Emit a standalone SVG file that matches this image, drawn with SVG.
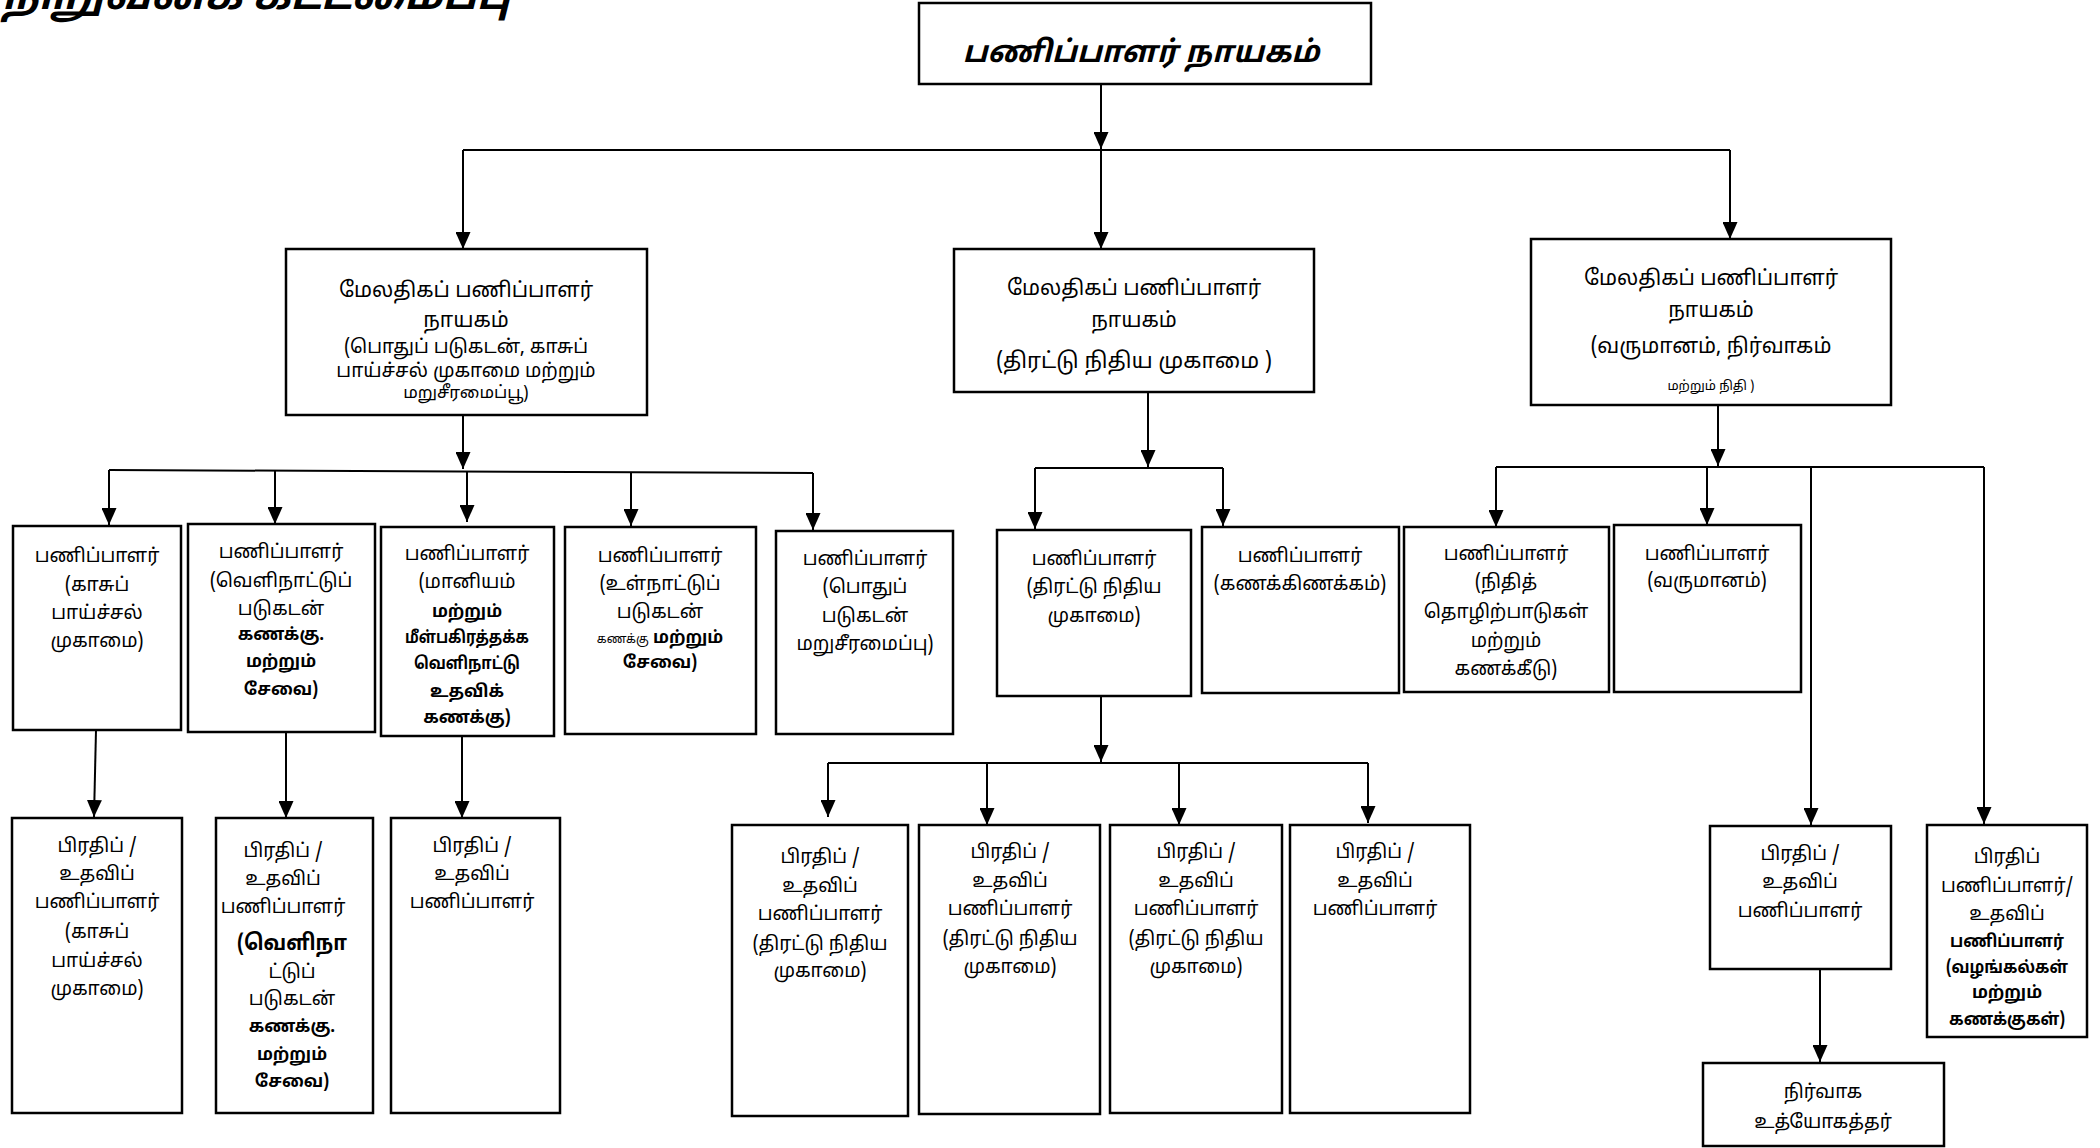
<svg xmlns="http://www.w3.org/2000/svg" width="2100" height="1148" viewBox="0 0 2100 1148">
<style>
.box{fill:#fff;stroke:#000;stroke-width:2.5}
.c{stroke:#000;stroke-width:2;fill:none}
.a{marker-end:url(#arr)}
text{font-family:'Noto Sans Tamil','Lohit Tamil','Latha','Noto Sans','DejaVu Sans',sans-serif;fill:#000;text-anchor:middle}
.t{font-size:19px}
.m{font-size:21px}
.s{font-size:13px}
.b{font-weight:bold;font-size:17px}
.root{font-size:30px;font-weight:bold;font-style:italic}
.title{font-size:41px;font-weight:bold;font-style:italic;text-anchor:start}
</style>
<defs>
<marker id="arr" viewBox="0 0 17 15" refX="17" refY="7.5" markerWidth="17" markerHeight="15" markerUnits="userSpaceOnUse" orient="auto">
<path d="M0,0 L17,7.5 L0,15 z" fill="#000"/>
</marker>
</defs>
<rect width="2100" height="1148" fill="#fff"/>
<text class="title" x="2" y="9">நிறுவனக் கட்டமைப்பு</text>

<g id="connectors">
<line class="c a" x1="1101" y1="84" x2="1101" y2="149"/>
<line class="c" x1="463" y1="150" x2="1730" y2="150"/>
<line class="c a" x1="463" y1="150" x2="463" y2="249"/>
<line class="c a" x1="1101" y1="150" x2="1101" y2="249"/>
<line class="c a" x1="1730" y1="150" x2="1730" y2="239"/>
<line class="c a" x1="463" y1="415" x2="463" y2="469"/>
<line class="c" x1="109" y1="470" x2="813" y2="473"/>
<line class="c a" x1="109" y1="470" x2="109" y2="525"/>
<line class="c a" x1="275" y1="471" x2="275" y2="524"/>
<line class="c a" x1="467" y1="472" x2="467" y2="522"/>
<line class="c a" x1="631" y1="472" x2="631" y2="526"/>
<line class="c a" x1="813" y1="473" x2="813" y2="530"/>
<line class="c a" x1="1148" y1="392" x2="1148" y2="467"/>
<line class="c" x1="1035" y1="468" x2="1223" y2="468"/>
<line class="c a" x1="1035" y1="468" x2="1035" y2="529"/>
<line class="c a" x1="1223" y1="468" x2="1223" y2="526"/>
<line class="c a" x1="1718" y1="398" x2="1718" y2="466"/>
<line class="c" x1="1496" y1="467" x2="1984" y2="467"/>
<line class="c a" x1="1496" y1="467" x2="1496" y2="527"/>
<line class="c a" x1="1707" y1="467" x2="1707" y2="525"/>
<line class="c a" x1="1811" y1="467" x2="1811" y2="825"/>
<line class="c a" x1="1984" y1="467" x2="1984" y2="824"/>
<line class="c a" x1="96" y1="730" x2="94" y2="817"/>
<line class="c a" x1="286" y1="732" x2="286" y2="818"/>
<line class="c a" x1="462" y1="725" x2="462" y2="818"/>
<line class="c a" x1="1101" y1="696" x2="1101" y2="762"/>
<line class="c" x1="828" y1="763" x2="1368" y2="763"/>
<line class="c a" x1="828" y1="763" x2="828" y2="817"/>
<line class="c a" x1="987" y1="763" x2="987" y2="825"/>
<line class="c a" x1="1179" y1="763" x2="1179" y2="825"/>
<line class="c a" x1="1368" y1="763" x2="1368" y2="823"/>
<line class="c a" x1="1820" y1="969" x2="1820" y2="1062"/>
</g>

<g id="root">
<rect class="box" x="919" y="3" width="452" height="81"/>
<text class="root" x="1141" y="62">பணிப்பாளர் நாயகம்</text>
</g>

<g id="m1">
<rect class="box" x="286" y="249" width="361" height="166"/>
<text class="m" x="466" y="297">மேலதிகப் பணிப்பாளர்</text>
<text class="m" x="466" y="327">நாயகம்</text>
<text class="t" x="466" y="353">(பொதுப் படுகடன், காசுப்</text>
<text class="t" x="466" y="377">பாய்ச்சல் முகாமை மற்றும்</text>
<text class="t" x="466" y="398" style="font-size:17px">மறுசீரமைப்பூ)</text>
</g>

<g id="m2">
<rect class="box" x="954" y="249" width="360" height="143"/>
<text class="m" x="1134" y="295">மேலதிகப் பணிப்பாளர்</text>
<text class="m" x="1134" y="327">நாயகம்</text>
<text class="m" x="1134" y="368" style="font-size:22px">(திரட்டு நிதிய முகாமை )</text>
</g>

<g id="m3">
<rect class="box" x="1531" y="239" width="360" height="166"/>
<text class="m" x="1711" y="285">மேலதிகப் பணிப்பாளர்</text>
<text class="m" x="1711" y="317">நாயகம்</text>
<text class="m" x="1711" y="353">(வருமானம், நிர்வாகம்</text>
<text class="s" x="1711" y="390">மற்றும் நிதி )</text>
</g>

<g id="b1">
<rect class="box" x="13" y="526" width="168" height="204"/>
<text class="t" x="97" y="562">பணிப்பாளர்</text>
<text class="t" x="97" y="591">(காசுப்</text>
<text class="t" x="97" y="619">பாய்ச்சல்</text>
<text class="t" x="97" y="647">முகாமை)</text>
</g>

<g id="b2">
<rect class="box" x="188" y="524" width="187" height="208"/>
<text class="t" x="281" y="558">பணிப்பாளர்</text>
<text class="t" x="281" y="587">(வெளிநாட்டுப்</text>
<text class="t" x="281" y="615">படுகடன்</text>
<text class="b" x="281" y="640">கணக்கு.</text>
<text class="b" x="281" y="667">மற்றும்</text>
<text class="b" x="281" y="695">சேவை)</text>
</g>

<g id="b3">
<rect class="box" x="381" y="527" width="173" height="209"/>
<text class="t" x="467" y="560">பணிப்பாளர்</text>
<text class="t" x="467" y="588">(மானியம்</text>
<text class="b" x="467" y="617">மற்றும்</text>
<text class="b" x="467" y="643" textLength="124" lengthAdjust="spacingAndGlyphs">மீள்பகிரத்தக்க</text>
<text class="b" x="467" y="669" textLength="106" lengthAdjust="spacingAndGlyphs">வெளிநாட்டு</text>
<text class="b" x="467" y="697">உதவிக்</text>
<text class="b" x="467" y="723">கணக்கு)</text>
</g>

<g id="b4">
<rect class="box" x="565" y="527" width="191" height="207"/>
<text class="t" x="660" y="562">பணிப்பாளர்</text>
<text class="t" x="660" y="590">(உள்நாட்டுப்</text>
<text class="t" x="660" y="618">படுகடன்</text>
<text class="b" x="660" y="643"><tspan style="font-size:12px;font-weight:normal">கணக்கு</tspan> மற்றும்</text>
<text class="b" x="660" y="668">சேவை)</text>
</g>

<g id="b5">
<rect class="box" x="776" y="531" width="177" height="203"/>
<text class="t" x="865" y="565">பணிப்பாளர்</text>
<text class="t" x="865" y="593">(பொதுப்</text>
<text class="t" x="865" y="622">படுகடன்</text>
<text class="t" x="865" y="650">மறுசீரமைப்பு)</text>
</g>

<g id="b6">
<rect class="box" x="997" y="530" width="194" height="166"/>
<text class="t" x="1094" y="565">பணிப்பாளர்</text>
<text class="t" x="1094" y="593">(திரட்டு நிதிய</text>
<text class="t" x="1094" y="622">முகாமை)</text>
</g>

<g id="b7">
<rect class="box" x="1202" y="527" width="197" height="166"/>
<text class="t" x="1300" y="562">பணிப்பாளர்</text>
<text class="t" x="1300" y="590">(கணக்கிணக்கம்)</text>
</g>

<g id="b8">
<rect class="box" x="1404" y="527" width="205" height="165"/>
<text class="t" x="1506" y="560">பணிப்பாளர்</text>
<text class="t" x="1506" y="588">(நிதித்</text>
<text class="t" x="1506" y="618">தொழிற்பாடுகள்</text>
<text class="t" x="1506" y="647">மற்றும்</text>
<text class="t" x="1506" y="675">கணக்கீடு)</text>
</g>

<g id="b9">
<rect class="box" x="1614" y="525" width="187" height="167"/>
<text class="t" x="1707" y="560">பணிப்பாளர்</text>
<text class="t" x="1707" y="587">(வருமானம்)</text>
</g>

<g id="c1">
<rect class="box" x="12" y="818" width="170" height="295"/>
<text class="t" x="97" y="852">பிரதிப் /</text>
<text class="t" x="97" y="880">உதவிப்</text>
<text class="t" x="97" y="908">பணிப்பாளர்</text>
<text class="t" x="97" y="938">(காசுப்</text>
<text class="t" x="97" y="967">பாய்ச்சல்</text>
<text class="t" x="97" y="995">முகாமை)</text>
</g>

<g id="c2">
<rect class="box" x="216" y="818" width="157" height="295"/>
<text class="t" x="283" y="857">பிரதிப் /</text>
<text class="t" x="283" y="885">உதவிப்</text>
<text class="t" x="283" y="913">பணிப்பாளர்</text>
<text class="b" x="292" y="950" style="font-size:22px" textLength="110" lengthAdjust="spacingAndGlyphs">(வெளிநா</text>
<text class="t" x="292" y="978">ட்டுப்</text>
<text class="t" x="292" y="1005">படுகடன்</text>
<text class="b" x="292" y="1032">கணக்கு.</text>
<text class="b" x="292" y="1060">மற்றும்</text>
<text class="b" x="292" y="1087">சேவை)</text>
</g>

<g id="c3">
<rect class="box" x="391" y="818" width="169" height="295"/>
<text class="t" x="472" y="852">பிரதிப் /</text>
<text class="t" x="472" y="880">உதவிப்</text>
<text class="t" x="472" y="908">பணிப்பாளர்</text>
</g>

<g id="c4">
<rect class="box" x="732" y="825" width="176" height="291"/>
<text class="t" x="820" y="863">பிரதிப் /</text>
<text class="t" x="820" y="892">உதவிப்</text>
<text class="t" x="820" y="920">பணிப்பாளர்</text>
<text class="t" x="820" y="950">(திரட்டு நிதிய</text>
<text class="t" x="820" y="977">முகாமை)</text>
</g>

<g id="c5">
<rect class="box" x="919" y="825" width="181" height="289"/>
<text class="t" x="1010" y="858">பிரதிப் /</text>
<text class="t" x="1010" y="887">உதவிப்</text>
<text class="t" x="1010" y="915">பணிப்பாளர்</text>
<text class="t" x="1010" y="945">(திரட்டு நிதிய</text>
<text class="t" x="1010" y="973">முகாமை)</text>
</g>

<g id="c6">
<rect class="box" x="1110" y="825" width="172" height="288"/>
<text class="t" x="1196" y="858">பிரதிப் /</text>
<text class="t" x="1196" y="887">உதவிப்</text>
<text class="t" x="1196" y="915">பணிப்பாளர்</text>
<text class="t" x="1196" y="945">(திரட்டு நிதிய</text>
<text class="t" x="1196" y="973">முகாமை)</text>
</g>

<g id="c7">
<rect class="box" x="1290" y="825" width="180" height="288"/>
<text class="t" x="1375" y="858">பிரதிப் /</text>
<text class="t" x="1375" y="887">உதவிப்</text>
<text class="t" x="1375" y="915">பணிப்பாளர்</text>
</g>

<g id="c8">
<rect class="box" x="1710" y="826" width="181" height="143"/>
<text class="t" x="1800" y="860">பிரதிப் /</text>
<text class="t" x="1800" y="888">உதவிப்</text>
<text class="t" x="1800" y="917">பணிப்பாளர்</text>
</g>

<g id="c9">
<rect class="box" x="1927" y="825" width="160" height="212"/>
<text class="t" x="2007" y="863">பிரதிப்</text>
<text class="t" x="2007" y="892">பணிப்பாளர்/</text>
<text class="t" x="2007" y="920">உதவிப்</text>
<text class="b" x="2007" y="947" textLength="114" lengthAdjust="spacingAndGlyphs">பணிப்பாளர்</text>
<text class="b" x="2007" y="973" textLength="122" lengthAdjust="spacingAndGlyphs">(வழங்கல்கள்</text>
<text class="b" x="2007" y="998">மற்றும்</text>
<text class="b" x="2007" y="1025" textLength="116" lengthAdjust="spacingAndGlyphs">கணக்குகள்)</text>
</g>

<g id="d1">
<rect class="box" x="1703" y="1063" width="241" height="83"/>
<text class="t" x="1823" y="1098">நிர்வாக</text>
<text class="t" x="1823" y="1128">உத்யோகத்தர்</text>
</g>
</svg>
